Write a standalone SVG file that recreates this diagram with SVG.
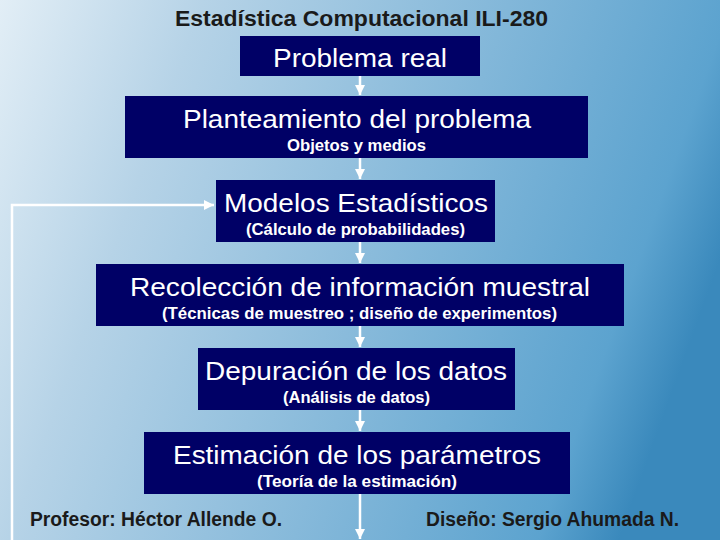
<svg xmlns="http://www.w3.org/2000/svg" width="720" height="540" viewBox="0 0 720 540">
<defs>
<linearGradient id="bg" x1="0" y1="0" x2="720" y2="260" gradientUnits="userSpaceOnUse">
<stop offset="0" stop-color="#e2eef6"/>
<stop offset="0.25" stop-color="#b6d3e7"/>
<stop offset="0.6" stop-color="#86b9da"/>
<stop offset="0.9" stop-color="#5ca3cf"/>
<stop offset="1.15" stop-color="#3a89bc"/>
</linearGradient>
<marker id="ah" viewBox="0 0 10 10" refX="10" refY="5" markerWidth="4" markerHeight="4" orient="auto" markerUnits="strokeWidth">
<path d="M0,0 L10,5 L0,10 z" fill="#ffffff"/>
</marker>
<style>
.box{fill:#000066}
.t{font-family:"Liberation Sans",Arial,sans-serif;fill:#ffffff;text-anchor:middle;font-size:25px}
.s{font-family:"Liberation Sans",Arial,sans-serif;fill:#ffffff;text-anchor:middle;font-size:16px;font-weight:bold}
.h{font-family:"Liberation Sans",Arial,sans-serif;fill:#1a1a1a;font-weight:bold}
.c{stroke:#ffffff;stroke-width:2.5;fill:none;marker-end:url(#ah)}
</style>
</defs>
<rect width="720" height="540" fill="url(#bg)"/>
<text class="h" x="175" y="26" font-size="22" textLength="373" lengthAdjust="spacingAndGlyphs">Estadística Computacional ILI-280</text>
<g id="connectors">
<line class="c" x1="360" y1="76" x2="360" y2="95"/>
<line class="c" x1="360" y1="158" x2="360" y2="179"/>
<line class="c" x1="360" y1="242" x2="360" y2="263"/>
<line class="c" x1="360" y1="326" x2="360" y2="347"/>
<line class="c" x1="360" y1="410" x2="360" y2="431"/>
<line class="c" x1="360" y1="494" x2="360" y2="539"/>
<polyline class="c" stroke-width="3" points="12,540 12,205 214,205"/>
</g>
<g id="n1"><rect class="box" x="240" y="36" width="240" height="40"/>
<text class="t" x="360" y="67" textLength="174" lengthAdjust="spacingAndGlyphs">Problema real</text></g>
<g id="n2"><rect class="box" x="125" y="96" width="463" height="62"/>
<text class="t" x="357" y="128" textLength="348" lengthAdjust="spacingAndGlyphs">Planteamiento del problema</text>
<text class="s" x="356.5" y="151" textLength="139" lengthAdjust="spacingAndGlyphs">Objetos y medios</text></g>
<g id="n3"><rect class="box" x="216" y="180" width="279" height="62"/>
<text class="t" x="356" y="212" textLength="264" lengthAdjust="spacingAndGlyphs">Modelos Estadísticos</text>
<text class="s" x="355.5" y="235" textLength="219" lengthAdjust="spacingAndGlyphs">(Cálculo de probabilidades)</text></g>
<g id="n4"><rect class="box" x="96" y="264" width="528" height="62"/>
<text class="t" x="360" y="296" textLength="460" lengthAdjust="spacingAndGlyphs">Recolección de información muestral</text>
<text class="s" x="359.5" y="319" textLength="395" lengthAdjust="spacingAndGlyphs">(Técnicas de muestreo ; diseño de experimentos)</text></g>
<g id="n5"><rect class="box" x="198" y="348" width="317" height="62"/>
<text class="t" x="356" y="380" textLength="302" lengthAdjust="spacingAndGlyphs">Depuración de los datos</text>
<text class="s" x="356.5" y="403" textLength="147" lengthAdjust="spacingAndGlyphs">(Análisis de datos)</text></g>
<g id="n6"><rect class="box" x="144" y="432" width="426" height="62"/>
<text class="t" x="357" y="464" textLength="368" lengthAdjust="spacingAndGlyphs">Estimación de los parámetros</text>
<text class="s" x="357" y="487" textLength="200" lengthAdjust="spacingAndGlyphs">(Teoría de la estimación)</text></g>
<text class="h" x="30" y="526" font-size="20" textLength="252" lengthAdjust="spacingAndGlyphs">Profesor: Héctor Allende O.</text>
<text class="h" x="426" y="526" font-size="20" textLength="253" lengthAdjust="spacingAndGlyphs">Diseño: Sergio Ahumada N.</text>
</svg>
